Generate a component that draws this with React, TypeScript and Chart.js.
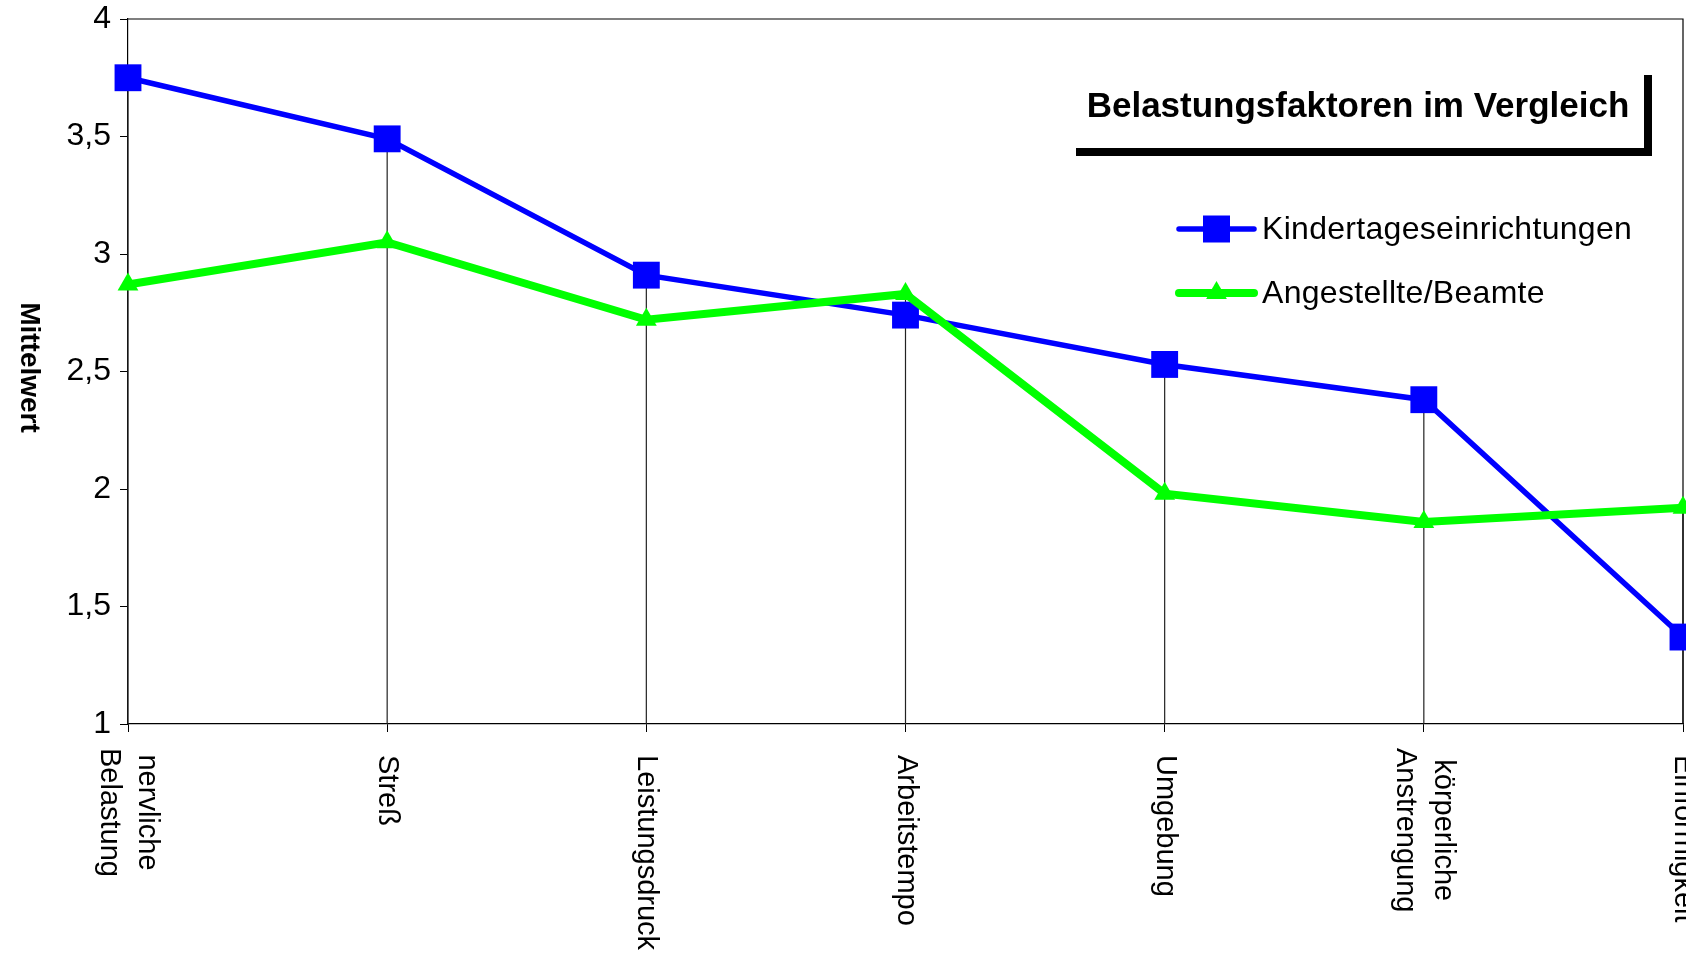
import React, { useEffect, useRef } from "react";
import { Chart, registerables } from "chart.js";

Chart.register(...registerables);

const categories: string[][] = [
  ["nervliche", "Belastung"],
  ["Streß"],
  ["Leistungsdruck"],
  ["Arbeitstempo"],
  ["Umgebung"],
  ["körperliche", "Anstrengung"],
  ["Einförmigkeit"],
];
const kitaValues = [3.75, 3.49, 2.91, 2.74, 2.53, 2.38, 1.37];
const angestellteValues = [2.87, 3.05, 2.72, 2.83, 1.98, 1.86, 1.92];
const yTicks = [1, 1.5, 2, 2.5, 3, 3.5, 4];
const seriesNames = ["Kindertageseinrichtungen", "Angestellte/Beamte"];
const chartTitle = "Belastungsfaktoren im Vergleich";
const yAxisTitle = "Mittelwert";

const BLUE = "#0000FF";
const GREEN = "#00FF00";
const FONT = '"Liberation Sans", Arial, sans-serif';

const framePlugin = {
  id: "frameAndDrops",
  beforeDatasetsDraw(chart: any) {
    const { ctx, chartArea } = chart;
    const xs = chart.scales.x;
    const ys = chart.scales.y;
    ctx.save();
    ctx.strokeStyle = "#222";
    ctx.lineWidth = 1.2;
    const n = chart.data.labels.length;
    for (let i = 0; i < n; i++) {
      let maxV = -Infinity;
      chart.data.datasets.forEach((ds: any) => {
        const v = ds.data[i];
        if (typeof v === "number" && v > maxV) maxV = v;
      });
      const x = xs.getPixelForValue(i);
      ctx.beginPath();
      ctx.moveTo(x, ys.getPixelForValue(maxV));
      ctx.lineTo(x, chartArea.bottom);
      ctx.stroke();
    }
    ctx.strokeStyle = "#000";
    ctx.lineWidth = 1.2;
    ctx.beginPath();
    ctx.moveTo(chartArea.left, chartArea.top);
    ctx.lineTo(chartArea.right, chartArea.top);
    ctx.lineTo(chartArea.right, chartArea.bottom);
    ctx.stroke();
    ctx.restore();
  },
};

const decorPlugin = {
  id: "decor",
  afterDraw(chart: any) {
    const { ctx, chartArea } = chart;
    const xs = chart.scales.x;
    ctx.save();
    ctx.fillStyle = "#000";

    // category labels rotated clockwise
    ctx.font = `29px ${FONT}`;
    ctx.textAlign = "center";
    ctx.textBaseline = "middle";
    const lh = 38;
    categories.forEach((lines, i) => {
      const x = xs.getPixelForValue(i);
      const widths = lines.map((l) => ctx.measureText(l).width);
      const block = Math.max(...widths);
      const start = chartArea.bottom + (lines.length > 1 ? 24 : 31);
      ctx.save();
      ctx.translate(x, start);
      ctx.rotate(Math.PI / 2);
      lines.forEach((l, j) => {
        const off = (j - (lines.length - 1) / 2) * lh;
        ctx.fillText(l, block / 2, off);
      });
      ctx.restore();
    });

    // y axis title (rotated clockwise)
    ctx.font = `bold 28px ${FONT}`;
    ctx.save();
    ctx.translate(29, (chartArea.top + chartArea.bottom) / 2 - 4);
    ctx.rotate(Math.PI / 2);
    ctx.fillText(yAxisTitle, 0, 0);
    ctx.restore();

    // title box with shadow
    const R = chartArea.right;
    const T = chartArea.top;
    const boxL = R - 607;
    const boxR = R - 35;
    ctx.fillRect(boxR - 4, T + 56, 8, 81);
    ctx.fillRect(boxL, T + 129, boxR + 4 - boxL, 8);
    ctx.font = `bold 35px ${FONT}`;
    ctx.textAlign = "center";
    ctx.fillText(chartTitle, (boxL + boxR) / 2 - 4, T + 88);

    // legend
    const lx0 = R - 504;
    const lx1 = R - 429;
    const mx = (lx0 + lx1) / 2;
    const items = [
      { y: T + 210, color: BLUE, width: 5.5, shape: "rect" },
      { y: T + 274, color: GREEN, width: 8, shape: "tri" },
    ];
    ctx.font = `32px ${FONT}`;
    try {
      (ctx as any).letterSpacing = "0.3px";
    } catch (e) {}
    ctx.textAlign = "left";
    items.forEach((it, k) => {
      ctx.strokeStyle = it.color;
      ctx.fillStyle = it.color;
      ctx.lineWidth = it.width;
      ctx.lineCap = "round";
      ctx.beginPath();
      ctx.moveTo(lx0, it.y);
      ctx.lineTo(lx1, it.y);
      ctx.stroke();
      if (it.shape === "rect") {
        ctx.fillRect(mx - 13.5, it.y - 13.5, 27, 27);
      } else {
        const r = 12;
        ctx.beginPath();
        ctx.moveTo(mx, it.y - r);
        ctx.lineTo(mx + r * 0.866, it.y + r / 2);
        ctx.lineTo(mx - r * 0.866, it.y + r / 2);
        ctx.closePath();
        ctx.fill();
      }
      ctx.fillStyle = "#000";
      ctx.fillText(seriesNames[k], lx1 + 8, it.y + 1);
    });
    ctx.restore();
  },
};

export default function App() {
  const ref = useRef<HTMLCanvasElement | null>(null);
  useEffect(() => {
    document.body.style.margin = "0";
    document.body.style.overflow = "hidden";
    if (!ref.current) return;
    const chart = new Chart(ref.current, {
      type: "line",
      data: {
        labels: categories.map((c) => c.join(" ")),
        datasets: [
          {
            label: seriesNames[0],
            data: kitaValues,
            borderColor: BLUE,
            backgroundColor: BLUE,
            borderWidth: 5.5,
            pointStyle: "rect",
            pointRadius: 19,
            pointBorderWidth: 0,
            pointHoverRadius: 19,
            tension: 0,
            order: 1,
          },
          {
            label: seriesNames[1],
            data: angestellteValues,
            borderColor: GREEN,
            backgroundColor: GREEN,
            borderWidth: 8,
            pointStyle: "triangle",
            pointRadius: 12,
            pointBorderWidth: 0,
            pointHoverRadius: 12,
            tension: 0,
            order: 0,
          },
        ],
      },
      options: {
        animation: false,
        responsive: true,
        maintainAspectRatio: false,
        clip: false as any,
        layout: { autoPadding: false, padding: { top: 19, right: 3, left: 0, bottom: 0 } },
        plugins: {
          legend: { display: false },
          title: { display: false },
          tooltip: { enabled: false },
        },
        scales: {
          x: {
            type: "category",
            offset: false,
            grid: {
              drawOnChartArea: false,
              drawTicks: true,
              tickLength: 8,
              color: "#000",
            },
            border: { display: true, color: "#000", width: 1.2 },
            ticks: { display: false },
            afterFit: (s: any) => {
              s.height = 231;
              s.paddingLeft = 0;
              s.paddingRight = 0;
            },
          },
          y: {
            min: 1,
            max: 4,
            grid: {
              drawOnChartArea: false,
              drawTicks: true,
              tickLength: 8,
              color: "#000",
            },
            border: { display: true, color: "#000", width: 1.2 },
            afterBuildTicks: (s: any) => {
              s.ticks = yTicks.map((v) => ({ value: v }));
            },
            ticks: {
              padding: 9,
              color: "#000",
              font: { family: FONT, size: 32 },
              callback: (v: any) => String(v).replace(".", ","),
            },
            afterFit: (s: any) => {
              s.width = 128;
              s.paddingTop = 0;
              s.paddingBottom = 0;
            },
          },
        },
      },
      plugins: [framePlugin, decorPlugin],
    });
    return () => chart.destroy();
  }, []);
  return (
    <div style={{ width: 1686, height: 955, position: "relative" }}>
      <canvas ref={ref} />
    </div>
  );
}
